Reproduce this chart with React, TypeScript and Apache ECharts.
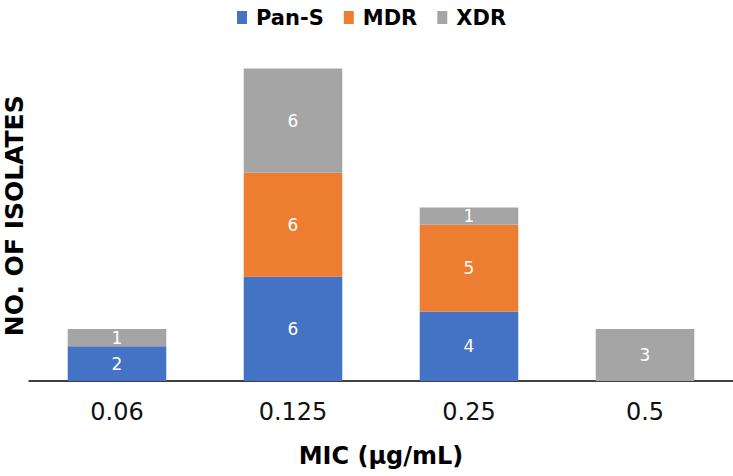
import React, { useEffect, useRef } from "react";
import * as echarts from "echarts";

const categories = ["0.06", "0.125", "0.25", "0.5"];
const panS = [2, 6, 4, 0];
const mdr = [0, 6, 5, 0];
const xdr = [1, 6, 1, 3];
const seriesNames = ["Pan-S", "MDR", "XDR"];
const colors = ["#4472C4", "#ED7D31", "#A5A5A5"];

export default function App() {
  const ref = useRef<HTMLDivElement>(null);
  useEffect(() => {
    if (!ref.current) return;
    const chart = echarts.init(ref.current, null, { renderer: "svg" });
    const values = [panS, mdr, xdr];
    const option: any = {
      animation: false,
      backgroundColor: "#ffffff",
      legend: {
        data: seriesNames,
        top: 2,
        left: 232,
        itemWidth: 10,
        itemHeight: 13,
        itemGap: 20,
        icon: "rect",
        textStyle: {
          fontFamily: "DejaVu Sans",
          fontWeight: "bold",
          fontSize: 21,
          color: "#000",
          padding: [0, 0, 0, 4],
        },
      },
      grid: {
        left: 29,
        right: 0,
        top: 68.5,
        bottom: 95,
        containLabel: false,
        outerBoundsMode: "none",
      },
      xAxis: {
        type: "category",
        data: categories,
        axisLine: { show: true, lineStyle: { color: "#000", width: 1.5 } },
        axisTick: { show: false },
        axisLabel: {
          margin: 19,
          fontFamily: "DejaVu Sans",
          fontSize: 24,
          color: "#111",
        },
        name: "MIC (µg/mL)",
        nameLocation: "middle",
        nameGap: 63,
        nameTextStyle: {
          fontFamily: "DejaVu Sans",
          fontWeight: "bold",
          fontSize: 24,
          color: "#000",
        },
      },
      yAxis: {
        type: "value",
        min: 0,
        max: 18,
        axisLine: { show: false },
        axisTick: { show: false },
        axisLabel: { show: false },
        splitLine: { show: false },
        name: "NO. OF ISOLATES",
        nameLocation: "middle",
        nameGap: 2,
        nameTextStyle: {
          fontFamily: "DejaVu Sans",
          fontWeight: "bold",
          fontSize: 25,
          color: "#000",
          padding: [0, 0, 0, 18],
        },
      },
      series: seriesNames.map((name, i) => ({
        name,
        type: "bar",
        stack: "total",
        barWidth: "56%",
        data: values[i],
        itemStyle: { color: colors[i] },
        label: {
          show: true,
          position: "inside",
          color: "#fff",
          fontFamily: "DejaVu Sans",
          fontSize: 17,
          formatter: (p: any) => (p.value ? String(p.value) : ""),
        },
      })),
    };
    chart.setOption(option);
    return () => chart.dispose();
  }, []);
  return (
    <div
      ref={ref}
      style={{ position: "fixed", left: 0, top: 0, width: 733, height: 476 }}
    />
  );
}
